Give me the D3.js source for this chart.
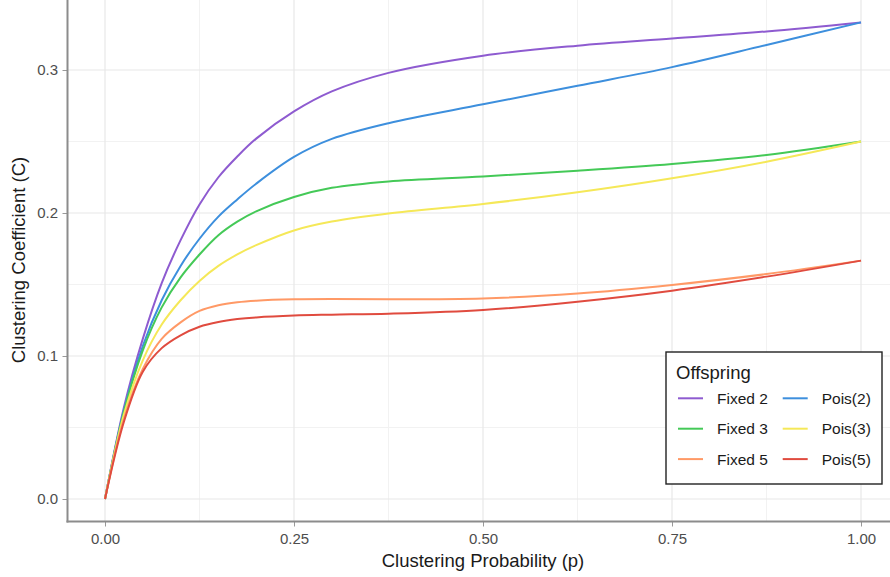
<!DOCTYPE html>
<html>
<head>
<meta charset="utf-8">
<script src="https://cdn.jsdelivr.net/npm/d3@7"></script>
<style>
  body { margin: 0; background: #fff; }
  svg { display: block; font-family: "Liberation Sans", Arial, sans-serif; }
</style>
</head>
<body>
<div id="chart"></div>
<script>
// values
var pVals   = [0, 0.025, 0.05, 0.075, 0.1, 0.125, 0.15, 0.175, 0.2, 0.25, 0.3, 0.375, 0.5, 0.625, 0.75, 0.875, 1];
var fixed2  = [0, 0.064, 0.112, 0.151, 0.181, 0.206, 0.225, 0.2395, 0.252, 0.271, 0.285, 0.298, 0.310, 0.317, 0.322, 0.327, 0.3333];
var pois2   = [0, 0.062, 0.107, 0.139, 0.163, 0.182, 0.1975, 0.2095, 0.2205, 0.2392, 0.2518, 0.2628, 0.276, 0.289, 0.302, 0.3175, 0.3333];
var fixed3  = [0, 0.061, 0.104, 0.134, 0.155, 0.171, 0.1845, 0.194, 0.2012, 0.2112, 0.2176, 0.2221, 0.2256, 0.2296, 0.2343, 0.2406, 0.25];
var pois3   = [0, 0.059, 0.097, 0.122, 0.139, 0.1525, 0.163, 0.171, 0.1775, 0.1878, 0.1940, 0.1997, 0.2063, 0.2145, 0.2243, 0.2359, 0.25];
var fixed5  = [0, 0.056, 0.091, 0.112, 0.1235, 0.1315, 0.1355, 0.1376, 0.1387, 0.1396, 0.1398, 0.1396, 0.1402, 0.1437, 0.1497, 0.1573, 0.1667];
var pois5   = [0, 0.054, 0.089, 0.1055, 0.1145, 0.1205, 0.1238, 0.1258, 0.1270, 0.1283, 0.1289, 0.1296, 0.1322, 0.1380, 0.1457, 0.1555, 0.1667];

var seriesNames = ["Fixed 2", "Pois(2)", "Fixed 3", "Pois(3)", "Fixed 5", "Pois(5)"];
var seriesVals  = [fixed2, pois2, fixed3, pois3, fixed5, pois5];
var colors      = ["#8e5bd0", "#3d8fdd", "#44c957", "#f5e858", "#ff9966", "#e04b3f"];

var xTicks = [0, 0.25, 0.5, 0.75, 1];
var xMinor = [0.125, 0.375, 0.625, 0.875];
var yTicks = [0, 0.1, 0.2, 0.3];
var yMinor = [0.05, 0.15, 0.25];

var width = 890, height = 577;
var panel = {left: 67.5, top: 0, right: 890, bottom: 521.5};

var x = d3.scaleLinear().domain([0, 1]).range([105, 861]);
var y = d3.scaleLinear().domain([0, 0.3]).range([499, 70]);

var svg = d3.select("#chart").append("svg")
	.attr("width", width)
	.attr("height", height);

// grid
var grid = svg.append("g").attr("id", "grid");
grid.selectAll("line.ymin").data(yMinor).enter().append("line")
	.attr("x1", panel.left).attr("x2", panel.right)
	.attr("y1", function(d){ return y(d); }).attr("y2", function(d){ return y(d); })
	.style("stroke", "#f2f2f2").style("stroke-width", "1px");
grid.selectAll("line.xmin").data(xMinor).enter().append("line")
	.attr("y1", panel.top).attr("y2", panel.bottom)
	.attr("x1", function(d){ return x(d); }).attr("x2", function(d){ return x(d); })
	.style("stroke", "#f2f2f2").style("stroke-width", "1px");
grid.selectAll("line.ymaj").data(yTicks).enter().append("line")
	.attr("x1", panel.left).attr("x2", panel.right)
	.attr("y1", function(d){ return y(d); }).attr("y2", function(d){ return y(d); })
	.style("stroke", "#e8e8e8").style("stroke-width", "1.2px");
grid.selectAll("line.xmaj").data(xTicks).enter().append("line")
	.attr("y1", panel.top).attr("y2", panel.bottom)
	.attr("x1", function(d){ return x(d); }).attr("x2", function(d){ return x(d); })
	.style("stroke", "#e8e8e8").style("stroke-width", "1.2px");

// lines
var line = d3.line()
	.x(function(d){ return x(d[0]); })
	.y(function(d){ return y(d[1]); })
	.curve(d3.curveCatmullRom.alpha(0.5));

svg.append("g").attr("id", "lines")
	.selectAll("path")
	.data(seriesVals)
	.enter()
	.append("path")
	.attr("d", function(vals){ return line(pVals.map(function(p, i){ return [p, vals[i]]; })); })
	.style("fill", "none")
	.style("stroke", function(d, i){ return colors[i]; })
	.style("stroke-width", "2px");

// axes
var yAxis = d3.axisLeft(y).tickValues(yTicks).tickFormat(d3.format(".1f")).tickSize(5).tickPadding(4.5);
var xAxis = d3.axisBottom(x).tickValues(xTicks).tickFormat(d3.format(".2f")).tickSize(5).tickPadding(6.5);

var gy = svg.append("g").attr("transform", "translate(" + panel.left + ",0)").call(yAxis);
var gx = svg.append("g").attr("transform", "translate(0," + panel.bottom + ")").call(xAxis);
[gy, gx].forEach(function(g){
	g.select(".domain").remove();
	g.selectAll(".tick line").style("stroke", "#999").style("stroke-width", "1px");
	g.selectAll(".tick text").style("fill", "#4d4d4d").style("font-size", "15px").style("font-family", "Liberation Sans, Arial, sans-serif");
});

svg.append("line")
	.attr("x1", panel.left).attr("x2", panel.left)
	.attr("y1", panel.top).attr("y2", panel.bottom + 1)
	.style("stroke", "#8c8c8c").style("stroke-width", "2px");
svg.append("line")
	.attr("x1", panel.left - 1).attr("x2", panel.right)
	.attr("y1", panel.bottom).attr("y2", panel.bottom)
	.style("stroke", "#8c8c8c").style("stroke-width", "2px");

// axis titles
svg.append("text")
	.attr("x", 483).attr("y", 567)
	.attr("text-anchor", "middle")
	.style("font-size", "18.5px").style("fill", "#1a1a1a")
	.text("Clustering Probability (p)");
svg.append("text")
	.attr("transform", "translate(25,260) rotate(-90)")
	.attr("text-anchor", "middle")
	.style("font-size", "18.5px").style("fill", "#1a1a1a")
	.text("Clustering Coefficient (C)");

// legend
var legend = svg.append("g").attr("transform", "translate(666,352)");
legend.append("rect")
	.attr("width", 216).attr("height", 132)
	.style("fill", "#fff").style("stroke", "#222").style("stroke-width", "1.4px");
legend.append("text")
	.attr("x", 10).attr("y", 27)
	.style("font-size", "18.5px").style("fill", "#1a1a1a")
	.text("Offspring");

var item = legend.selectAll("g.item")
	.data(seriesNames)
	.enter()
	.append("g")
	.attr("transform", function(d, i){ return "translate(" + (i % 2 ? 116.7 : 12) + "," + (46.3 + Math.floor(i / 2) * 30.4) + ")"; });
item.append("line")
	.attr("x1", 0).attr("x2", 25)
	.style("stroke", function(d, i){ return colors[i]; })
	.style("stroke-width", "2px");
item.append("text")
	.attr("x", 39).attr("dy", "0.35em")
	.style("font-size", "15.5px").style("fill", "#1a1a1a")
	.text(function(d){ return d; });
</script>
</body>
</html>
